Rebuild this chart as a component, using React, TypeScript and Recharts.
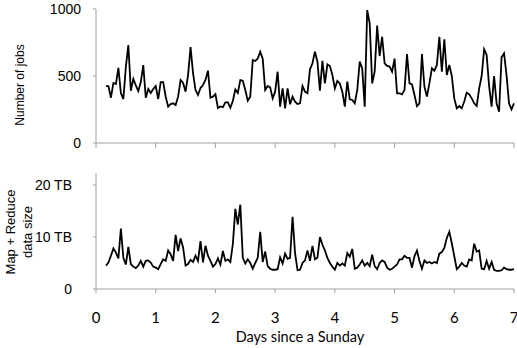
import { LineChart, Line, XAxis, YAxis, Label } from 'recharts';

// hourly samples, first one at hour 4 of the week
const startHour = 4;

const jobsPerHour = [
  425, 425, 338, 448, 440, 560, 373, 328, 567, 731,
  390, 478, 430, 388, 455, 582, 338, 403, 373, 403,
  425, 328, 455, 455, 346, 271, 291, 296, 283, 346,
  470, 448, 383, 507, 716, 522, 395, 358, 410, 433,
  470, 540, 338, 346, 365, 261, 273, 268, 303, 303,
  263, 313, 400, 373, 470, 465, 395, 316,
  346, 619, 612, 630, 681, 630, 396, 425, 415, 333,
  383, 532, 271, 408, 259, 408, 289, 346, 309, 291,
  296, 425, 383, 371, 550, 595, 681, 607, 390, 614,
  445, 587, 575, 507, 408, 463, 445, 383, 271, 458,
  326, 321, 296, 396, 607, 557, 271, 992, 893, 445,
  532, 876, 649, 793, 595, 575, 570, 532, 630, 371,
  371, 363, 396, 664, 445, 438, 358, 276, 296, 664,
  420, 346, 445, 557, 540, 582, 793, 532, 774, 507,
  582, 500, 333, 259, 276, 259, 309, 376, 363, 333,
  296, 276, 408, 500, 699, 657, 425, 271, 500, 296,
  234, 640, 669, 507, 296, 251, 296,
];

// Map + Reduce bytes per hour, in TB
const dataSizeTB = [
  4.5, 5.1, 6.4, 7.8, 7.0, 5.9, 11.6, 6.0, 4.7, 8.1,
  4.8, 4.3, 4.0, 4.5, 5.4, 4.3, 5.4, 5.5, 5.1, 4.3,
  4.1, 3.8, 4.8, 5.7, 5.4, 7.4, 6.7, 5.4, 10.4, 7.3,
  9.7, 8.0, 4.5, 4.8, 5.6, 5.2, 6.4, 5.4, 9.2, 5.1,
  8.3, 6.4, 5.4, 4.3, 4.8, 5.9, 4.7, 7.3, 5.4, 5.7,
  5.2, 8.6, 15.4, 12.4, 16.2, 6.0, 4.9,
  5.7, 5.0, 3.9, 5.0, 6.0, 11.0, 5.2, 7.2, 4.4, 3.9,
  3.7, 3.7, 3.8, 6.1, 4.9, 6.8, 5.8, 6.0, 13.9, 6.9,
  3.6, 3.7, 5.0, 5.5, 7.4, 5.4, 8.3, 5.7, 6.0, 10.0,
  8.5, 7.4, 6.0, 5.0, 4.3, 3.7, 5.0, 4.5, 4.9, 4.5,
  6.9, 6.2, 7.7, 3.9, 4.1, 4.7, 5.5, 4.5, 5.0, 4.4,
  6.6, 4.4, 3.8, 5.0, 5.5, 5.2, 4.1, 3.7, 3.9, 4.3,
  4.7, 5.7, 5.7, 6.4, 6.0, 6.0, 4.1, 6.3, 7.4, 5.4,
  3.9, 5.5, 5.0, 5.2, 4.9, 5.2, 5.0, 6.8, 7.1, 7.9,
  9.8, 11.0, 8.8, 6.3, 3.8, 4.3, 5.0, 4.5, 4.3, 5.7,
  5.5, 8.7, 7.2, 7.4, 3.9, 3.8, 5.4, 3.9, 5.2, 3.7,
  3.5, 3.5, 3.6, 4.1, 3.8, 3.7, 3.7, 3.8,
];

const dayTicks = [0, 1, 2, 3, 4, 5, 6, 7];
const jobsTicks = [0, 500, 1000];
const sizeTicks = [0, 10, 20];

const jobsData = jobsPerHour.map((jobs, i) => ({ day: (startHour + i) / 24, jobs }));
const sizeData = dataSizeTB.map((tb, i) => ({ day: (startHour + i) / 24, tb }));

const axisGray = '#a0a0a0';
const yTickStyle = { fontSize: 14, fontFamily: '"Liberation Sans", Arial, sans-serif', fill: '#000' };
const xTickStyle = { fontSize: 15, fontFamily: 'Lato, sans-serif', fill: '#000' };

const jobsLabel = () => (
  <text
    x={20}
    y={85}
    transform="rotate(-90 20 85)"
    textAnchor="middle"
    dominantBaseline="central"
    fontSize={12}
    fontFamily='"Liberation Sans", Arial, sans-serif'
    fill="#000"
  >
    Number of jobs
  </text>
);

const sizeLabel = () => (
  <g transform="rotate(-90 18 72)" fontSize={13} fontFamily='"Liberation Sans", Arial, sans-serif' fill="#000">
    <text x={18} y={64} textAnchor="middle" dominantBaseline="central">Map + Reduce</text>
    <text x={18} y={81} textAnchor="middle" dominantBaseline="central">data size</text>
  </g>
);

const daysLabel = () => (
  <text x={300} y={176} textAnchor="middle" dominantBaseline="central" fontSize={14.5} fontFamily="Lato, sans-serif" fill="#000">
    Days since a Sunday
  </text>
);

export default function App() {
  return (
    <div style={{ position: 'absolute', left: 0, top: 0, width: 517, height: 348, background: '#fff' }}>
      <div style={{ position: 'absolute', left: 0, top: 0 }}>
        <LineChart width={517} height={150} data={jobsData} margin={{ top: 9, right: 3, left: 0, bottom: 0 }}>
          <XAxis
            dataKey="day"
            type="number"
            domain={[0, 7]}
            ticks={dayTicks}
            interval={0}
            tickFormatter={() => ''}
            height={7}
            tickSize={5}
            stroke={axisGray}
            axisLine={{ stroke: axisGray }}
            tickLine={{ stroke: axisGray }}
          />
          <YAxis
            type="number"
            domain={[0, 1000]}
            ticks={jobsTicks}
            interval={0}
            width={96}
            tickSize={3}
            tickMargin={12}
            tick={yTickStyle}
            axisLine={{ stroke: axisGray }}
            tickLine={{ stroke: axisGray }}
          >
            <Label content={jobsLabel} />
          </YAxis>
          <Line type="linear" dataKey="jobs" stroke="#000" strokeWidth={1.8} dot={false} isAnimationActive={false} />
        </LineChart>
      </div>
      <div style={{ position: 'absolute', left: 0, top: 160 }}>
        <LineChart width={517} height={188} data={sizeData} margin={{ top: 13, right: 3, left: 0, bottom: 0 }}>
          <XAxis
            dataKey="day"
            type="number"
            domain={[0, 7]}
            ticks={dayTicks}
            interval={0}
            height={59}
            tickSize={4}
            tickMargin={19}
            tick={xTickStyle}
            axisLine={{ stroke: axisGray }}
            tickLine={{ stroke: axisGray }}
          >
            <Label content={daysLabel} />
          </XAxis>
          <YAxis
            type="number"
            domain={[0, 22.3]}
            ticks={sizeTicks}
            interval={0}
            tickFormatter={(v: number) => (v === 0 ? '0' : `${v} TB`)}
            width={96}
            tickSize={3}
            tickMargin={21}
            tick={yTickStyle}
            axisLine={{ stroke: axisGray }}
            tickLine={{ stroke: axisGray }}
          >
            <Label content={sizeLabel} />
          </YAxis>
          <Line type="linear" dataKey="tb" stroke="#000" strokeWidth={1.8} dot={false} isAnimationActive={false} />
        </LineChart>
      </div>
    </div>
  );
}
